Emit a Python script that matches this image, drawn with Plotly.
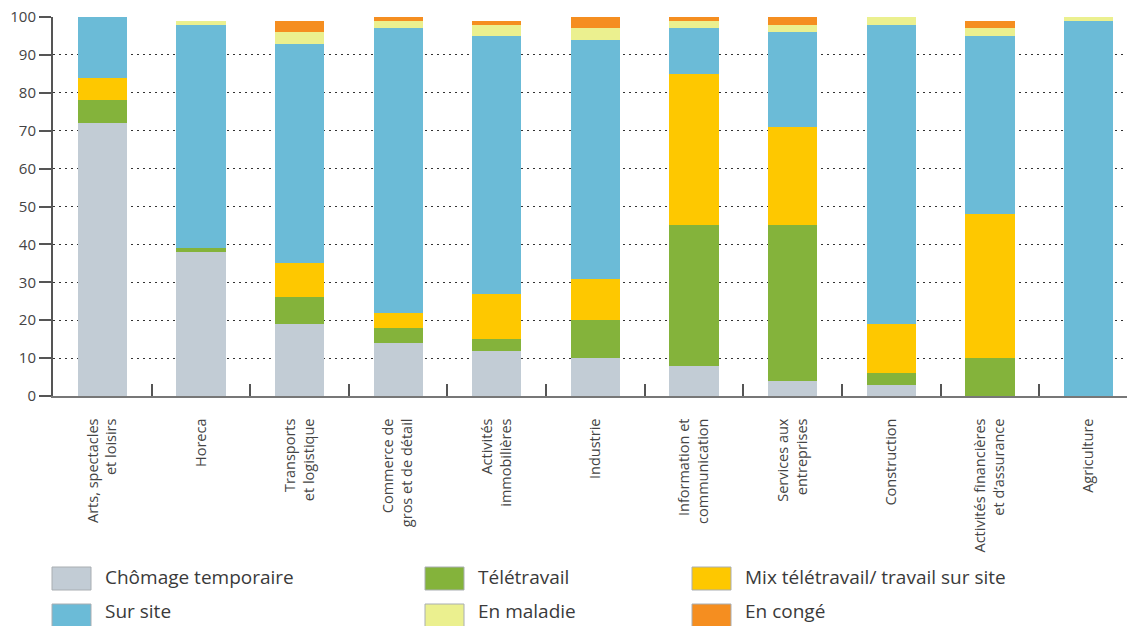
import plotly.graph_objects as go

# Sectors (x axis), two-line labels
categories = [
    "Arts, spectacles<br>et loisirs",
    "Horeca",
    "Transports<br>et logistique",
    "Commerce de<br>gros et de détail",
    "Activités<br>immobilières",
    "Industrie",
    "Information et<br>communication",
    "Services aux<br>entreprises",
    "Construction",
    "Activités financières<br>et d’assurance",
    "Agriculture",
]

# Share of workers by situation (%), stacked bottom to top
chomage = [72, 38, 19, 14, 12, 10, 8, 4, 3, 0, 0]
teletravail = [6, 1, 7, 4, 3, 10, 37, 41, 3, 10, 0]
mix = [6, 0, 9, 4, 12, 11, 40, 26, 13, 38, 0]
sur_site = [16, 59, 58, 75, 68, 63, 12, 25, 79, 47, 99]
maladie = [0, 1, 3, 2, 3, 3, 2, 2, 2, 2, 1]
conge = [0, 0, 3, 1, 1, 3, 1, 2, 0, 2, 0]

series_names = [
    "Chômage temporaire",
    "Télétravail",
    "Mix télétravail/ travail sur site",
    "Sur site",
    "En maladie",
    "En congé",
]
series_values = [chomage, teletravail, mix, sur_site, maladie, conge]
series_colors = ["#c2ccd5", "#84b33b", "#fec800", "#6bbbd7", "#ebf08f", "#f58e20"]

y_ticks = list(range(0, 101, 10))

fig = go.Figure()
for name, vals, col in zip(series_names, series_values, series_colors):
    fig.add_trace(go.Bar(
        x=categories, y=vals, name=name,
        marker=dict(color=col, line=dict(width=0)),
        width=0.5, showlegend=False,
    ))

# Page geometry (pixels)
W, H = 1127, 626
ML, MR, MT, MB = 53, 0, 17, 230
PW, PH = W - ML - MR, H - MT - MB

def px_x(p):
    return (p - ML) / PW

def px_y(p):
    return (H - MB - p) / PH

# Legend block: 3 columns x 2 rows, entries in stacking order
col_swatch = [52, 425, 692]
col_text = [105, 478, 745]
row_top = [567, 604]
row_text_mid = [577, 611]
sw_w, sw_h = 39, 23
shapes = []
annotations = []
for i, (name, col) in enumerate(zip(series_names, series_colors)):
    r, c = divmod(i, 3)
    x0 = col_swatch[c]
    y0 = row_top[r]
    shapes.append(dict(
        type="rect", xref="paper", yref="paper",
        x0=px_x(x0), x1=px_x(x0 + sw_w),
        y0=px_y(y0 + sw_h), y1=px_y(y0),
        fillcolor=col, line=dict(color="#a9aeb2", width=1),
    ))
    annotations.append(dict(
        xref="paper", yref="paper",
        x=px_x(col_text[c] - 1), y=px_y(row_text_mid[r]),
        xanchor="left", yanchor="middle", showarrow=False,
        borderpad=0,
        text=name, font=dict(family="Open Sans", size=19, color="#3a3a3a"),
    ))

fig.update_layout(
    width=W, height=H,
    margin=dict(l=ML, r=MR, t=MT, b=MB),
    barmode="stack",
    bargap=0.5,
    plot_bgcolor="white",
    paper_bgcolor="white",
    font=dict(family="Open Sans", color="#444"),
    shapes=shapes,
    annotations=annotations,
    xaxis=dict(
        type="category",
        range=[-0.5, 10.39],
        tickangle=-90,
        tickson="boundaries",
        ticks="inside",
        ticklen=12,
        tickwidth=1.5,
        tickcolor="#555",
        showline=True,
        linecolor="#777",
        linewidth=1.5,
        showgrid=False,
        ticklabelstandoff=15,
        tickfont=dict(family="Open Sans", size=14.5, color="#444"),
    ),
    yaxis=dict(
        range=[0, 100],
        tickvals=y_ticks,
        ticks="outside",
        ticklen=12,
        tickwidth=1.5,
        tickcolor="#555",
        showline=True,
        linecolor="#555",
        linewidth=2,
        showgrid=True,
        gridcolor="#333",
        gridwidth=1,
        griddash="2px,4px",
        zeroline=False,
        tickfont=dict(family="Open Sans", size=15, color="#444"),
    ),
)

fig.write_html("out.html")
